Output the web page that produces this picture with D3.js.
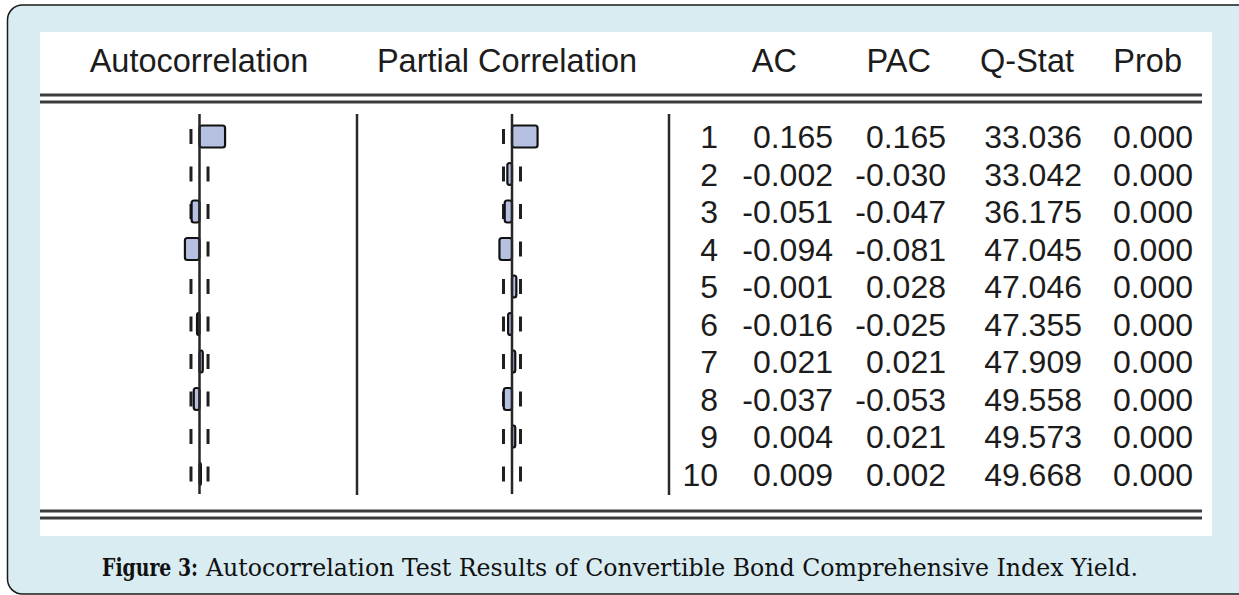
<!DOCTYPE html>
<html>
<head>
<meta charset="utf-8">
<script src="https://cdn.jsdelivr.net/npm/d3@7"></script>
<style>
  html, body { margin: 0; padding: 0; background: #ffffff; }
  svg { display: block; }
</style>
</head>
<body>
<svg id="chart" width="1239" height="595"></svg>
<script>
// Correlogram of the convertible bond index yield (lags 1-10)
const lags = [1, 2, 3, 4, 5, 6, 7, 8, 9, 10];
const acValues  = [0.165, -0.002, -0.051, -0.094, -0.001, -0.016, 0.021, -0.037, 0.004, 0.009];
const pacValues = [0.165, -0.030, -0.047, -0.081, 0.028, -0.025, 0.021, -0.053, 0.021, 0.002];
const qStats    = [33.036, 33.042, 36.175, 47.045, 47.046, 47.355, 47.909, 49.558, 49.573, 49.668];
const probs     = [0.000, 0.000, 0.000, 0.000, 0.000, 0.000, 0.000, 0.000, 0.000, 0.000];
const graphHeaders = ["Autocorrelation", "Partial Correlation"];
const numberHeaders = ["AC", "PAC", "Q-Stat", "Prob"];
const confidenceBound = 0.055;   // approximate two-standard-error band
const captionLabel = "Figure 3:";
const captionText = "Autocorrelation Test Results of Convertible Bond Comprehensive Index Yield.";

const svg = d3.select("#chart");
const ink = "#1c1c1c";
const tableFont = "'Liberation Sans', Arial, sans-serif";
const headerSize = 32.5;
const cellSize = 32;

// outer rounded frame and white table panel
svg.append("rect")
  .attr("x", 7.5).attr("y", 5).attr("width", 1245).attr("height", 589)
  .attr("rx", 15).attr("ry", 15)
  .attr("fill", "#d8ecf1").attr("stroke", "#1a1a1a").attr("stroke-width", 1.5);
svg.append("rect")
  .attr("x", 40).attr("y", 32).attr("width", 1172).attr("height", 504)
  .attr("fill", "#ffffff");

// row positions
const y = d3.scalePoint().domain(lags).range([136.5, 136.5 + 9 * 37.5]);

// column headers
const headerBaseline = 71.5;
const graphCenters = [199, 507];
svg.selectAll("text.gh").data(graphHeaders).join("text")
  .attr("class", "gh")
  .attr("x", (d, i) => graphCenters[i]).attr("y", headerBaseline)
  .attr("text-anchor", "middle")
  .attr("font-family", tableFont).attr("font-size", headerSize).attr("fill", ink)
  .text(d => d);

const numberRight = [833, 946, 1082, 1193];
const headerRight = [797, 931, 1074, 1182];
svg.selectAll("text.nh").data(numberHeaders).join("text")
  .attr("class", "nh")
  .attr("x", (d, i) => headerRight[i]).attr("y", headerBaseline)
  .attr("text-anchor", "end")
  .attr("font-family", tableFont).attr("font-size", headerSize).attr("fill", ink)
  .text(d => d);

// double rules above and below the body
const ruleColor = "#3c3c3c";
[95, 102, 511, 518].forEach(ry => {
  svg.append("line")
    .attr("x1", 40).attr("x2", 1202).attr("y1", ry).attr("y2", ry)
    .attr("stroke", ruleColor).attr("stroke-width", 3);
});

// vertical separators between panels
const bodyTop = 114, bodyBottom = 494;
[357, 669].forEach(sx => {
  svg.append("line")
    .attr("x1", sx).attr("x2", sx).attr("y1", bodyTop).attr("y2", bodyBottom + 1)
    .attr("stroke", "#2a2a2a").attr("stroke-width", 2.5);
});

// bar panels
function drawPanel(values, zeroX) {
  const x = d3.scaleLinear().domain([-1, 1]).range([zeroX - 155, zeroX + 155]);
  const g = svg.append("g");
  const rows = lags.map((lag, i) => ({ lag, v: values[i] }));

  // confidence band ticks
  [-confidenceBound, confidenceBound].forEach(b => {
    g.selectAll(null).data(rows).join("line")
      .attr("x1", x(b)).attr("x2", x(b))
      .attr("y1", d => y(d.lag) - 7.5).attr("y2", d => y(d.lag) + 7.5)
      .attr("stroke", "#202020").attr("stroke-width", 3);
  });

  // correlation bars
  g.selectAll("rect.bar").data(rows.filter(d => Math.floor(Math.abs(x(d.v) - x(0))) >= 1)).join("rect")
    .attr("class", "bar")
    .attr("x", d => Math.min(x(0), x(d.v)))
    .attr("width", d => Math.abs(x(d.v) - x(0)))
    .attr("y", d => y(d.lag) - 11).attr("height", 22)
    .attr("rx", 2.5).attr("ry", 2.5)
    .attr("fill", "#b6c0e0").attr("stroke", "#111111").attr("stroke-width", 2.2);

  // zero axis
  g.append("line")
    .attr("x1", x(0)).attr("x2", x(0)).attr("y1", bodyTop).attr("y2", bodyBottom)
    .attr("stroke", "#262626").attr("stroke-width", 2.5);
}
drawPanel(acValues, 199.5);
drawPanel(pacValues, 512);

// numeric columns (plain hyphen for negatives, as in the program output)
const fmt = d => d.toFixed(3);
const columns = [
  { right: 718, values: lags, f: d => String(d) },
  { right: numberRight[0], values: acValues, f: fmt },
  { right: numberRight[1], values: pacValues, f: fmt },
  { right: numberRight[2], values: qStats, f: fmt },
  { right: numberRight[3], values: probs, f: fmt }
];
columns.forEach(col => {
  svg.selectAll(null).data(col.values).join("text")
    .attr("x", col.right)
    .attr("y", (d, i) => y(lags[i]) + 11.5)
    .attr("text-anchor", "end")
    .attr("font-family", tableFont).attr("font-size", cellSize).attr("fill", ink)
    .text(d => col.f(d));
});

// caption
const captionFont = "'DejaVu Serif', 'Liberation Serif', serif";
svg.append("text")
  .attr("x", 102).attr("y", 576)
  .attr("font-family", captionFont).attr("font-stretch", "condensed")
  .attr("font-weight", "bold").attr("font-size", 25).attr("fill", "#111")
  .attr("textLength", 96).attr("lengthAdjust", "spacingAndGlyphs")
  .text(captionLabel);
svg.append("text")
  .attr("x", 206).attr("y", 576)
  .attr("font-family", captionFont).attr("font-stretch", "condensed")
  .attr("font-size", 25).attr("fill", "#111")
  .attr("textLength", 932).attr("lengthAdjust", "spacingAndGlyphs")
  .text(captionText);
</script>
</body>
</html>
